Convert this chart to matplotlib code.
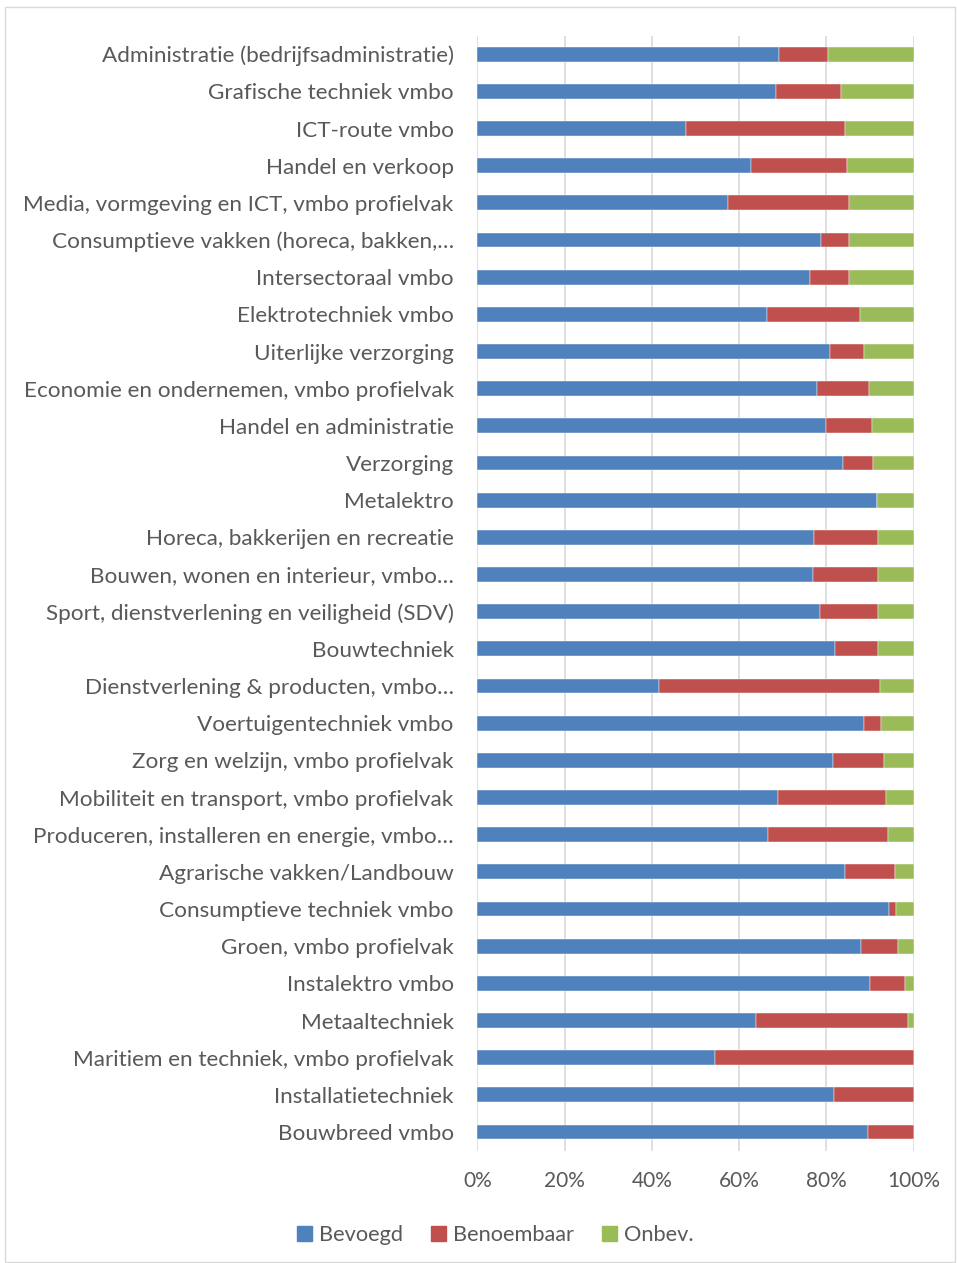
import matplotlib
matplotlib.use('Agg')
import matplotlib.pyplot as plt
from matplotlib.patches import Rectangle, Patch

plt.rcParams['font.family'] = ['Lato', 'DejaVu Sans']

vakken = ['Administratie (bedrijfsadministratie)', 'Grafische techniek vmbo', 'ICT-route vmbo',
          'Handel en verkoop', 'Media, vormgeving en ICT, vmbo profielvak',
          'Consumptieve vakken (horeca, bakken,…', 'Intersectoraal vmbo', 'Elektrotechniek vmbo',
          'Uiterlijke verzorging', 'Economie en ondernemen, vmbo profielvak',
          'Handel en administratie', 'Verzorging', 'Metalektro', 'Horeca, bakkerijen en recreatie',
          'Bouwen, wonen en interieur, vmbo…', 'Sport, dienstverlening en veiligheid (SDV)',
          'Bouwtechniek', 'Dienstverlening & producten, vmbo…', 'Voertuigentechniek vmbo',
          'Zorg en welzijn, vmbo profielvak', 'Mobiliteit en transport, vmbo profielvak',
          'Produceren, installeren en energie, vmbo…', 'Agrarische vakken/Landbouw',
          'Consumptieve techniek vmbo', 'Groen, vmbo profielvak', 'Instalektro vmbo',
          'Metaaltechniek', 'Maritiem en techniek, vmbo profielvak', 'Installatietechniek',
          'Bouwbreed vmbo']

bevoegd = [69.1, 68.4, 47.8, 62.8, 57.5, 78.7, 76.3, 66.3, 80.9, 77.9, 79.8, 83.7, 91.6, 77.2,
           76.8, 78.6, 82.0, 41.6, 88.6, 81.6, 68.8, 66.5, 84.2, 94.3, 87.8, 90.0, 63.8, 54.4,
           81.7, 89.5]
benoembaar = [11.2, 15.0, 36.4, 21.8, 27.7, 6.5, 8.9, 21.3, 7.7, 11.9, 10.6, 7.0, 0.0, 14.5,
              14.9, 13.1, 9.7, 50.7, 3.9, 11.6, 24.9, 27.6, 11.6, 1.7, 8.6, 7.9, 34.8, 45.6,
              18.3, 10.5]
onbev = [100 - a - b for a, b in zip(bevoegd, benoembaar)]

kleuren = ['#4F81BD', '#C0504D', '#9BBB59']
grijs = '#595959'

fig = plt.figure(figsize=(9.57, 12.63), dpi=100)
fig.patches.append(Rectangle((5 / 957, 1 - 1262 / 1263), 950 / 957, 1255 / 1263,
                             transform=fig.transFigure, fill=False,
                             edgecolor='#d9d9d9', lw=1))
ax = fig.add_axes([0.4988, 0.0890, 0.456, 0.8828])

y = list(range(len(vakken)))
links = [0] * len(vakken)
for reeks, kleur in zip([bevoegd, benoembaar, onbev], kleuren):
    ax.barh(y, reeks, left=links, height=0.4, color=kleur, edgecolor='white', linewidth=0.3,
            zorder=3)
    links = [l + r for l, r in zip(links, reeks)]

ax.set_ylim(len(vakken) - 0.5, -0.5)
ax.set_xlim(0, 100)
ax.set_xticks(range(0, 101, 20))
ax.set_xticklabels(['%d%%' % v for v in range(0, 101, 20)])
ax.set_yticks(y)
ax.set_yticklabels(vakken)
ax.tick_params(axis='y', length=0, pad=17, labelsize=16.2, labelcolor=grijs)
ax.tick_params(axis='x', length=0, pad=15, labelsize=15, labelcolor=grijs)
ax.grid(axis='x', color='#d9d9d9', lw=1.2, zorder=0)
for s in ax.spines.values():
    s.set_visible(False)

handles = [Patch(color=k) for k in kleuren]
fig.legend(handles, ['Bevoegd', 'Benoembaar', 'Onbev.'], loc='center',
           bbox_to_anchor=(495 / 957, 1 - 1235 / 1263), ncol=3, frameon=False,
           fontsize=15.7, labelcolor=grijs, handlelength=0.7, handleheight=0.7,
           handletextpad=0.3, columnspacing=1.3)

fig.savefig('out.png', dpi=100)
